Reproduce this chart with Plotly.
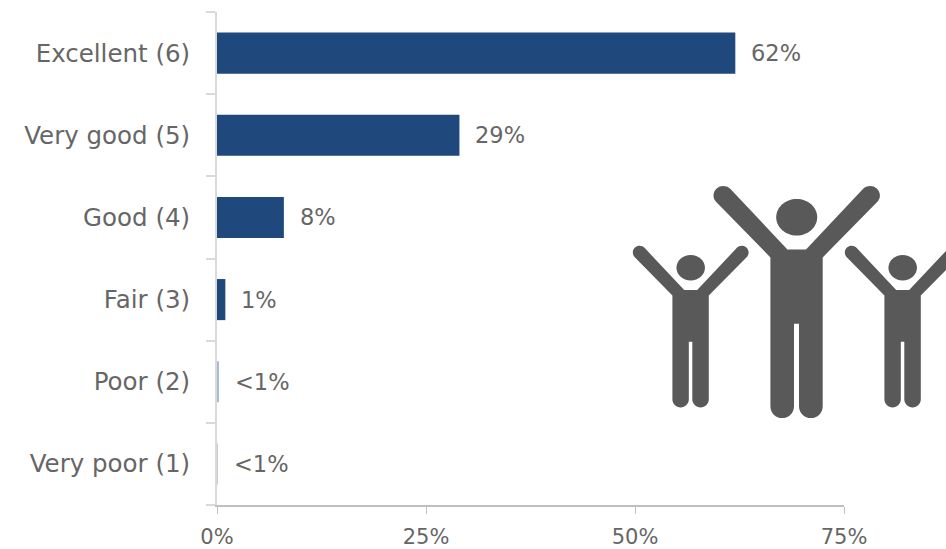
import plotly.graph_objects as go

categories = ["Very poor (1)", "Poor (2)", "Fair (3)", "Good (4)", "Very good (5)", "Excellent (6)"]
values = [0.1, 0.2, 1, 8, 29, 62]
value_labels = ["&lt;1%", "&lt;1%", "1%", "8%", "29%", "62%"]
bar_colors = ["#c4ccd6", "#a9bcd4", "#1f497d", "#1f497d", "#1f497d", "#1f497d"]
x_ticks = [0, 25, 50, 75]
x_tick_labels = ["0%", "25%", "50%", "75%"]

W, H = 946, 549
L, R, T, B = 217, 102, 11.5, 43.5
FONT = "'DejaVu Sans', sans-serif"
GREY = "#595959"
TEXT = "#666666"


def px(x):
    return (x - L) / (W - L - R)


def py(y):
    return 1 - (y - T) / (H - T - B)


# icon outline in units of the large figure, centred on x=0
def person_paths(cx, base_y, s):
    def P(x, y):
        return f"{px(cx + x * s):.5f},{py(base_y + y * s):.5f}"

    def C(a, b, c):
        return "C" + P(*a) + " " + P(*b) + " " + P(*c)

    body = (
        "M" + P(-9.3, 22.7) + "L" + P(9.3, 22.7)
        + "L" + P(66, -37.7)
        + C((69.7, -41.6), (76.1, -42.1), (80, -38.4))
        + C((83.9, -34.7), (84.4, -28.9), (80.7, -25))
        + "L" + P(26, 30.7)
        + "L" + P(26, 180)
        + C((26, 186.5), (20.8, 191.7), (14.2, 191.7))
        + C((7.8, 191.7), (2.3, 186.5), (2.3, 180))
        + "L" + P(2.3, 97.3) + "L" + P(-2.7, 97.3)
        + "L" + P(-2.7, 180)
        + C((-2.7, 186.5), (-8, 191.7), (-14.5, 191.7))
        + C((-21, 191.7), (-26.3, 186.5), (-26.3, 180))
        + "L" + P(-26.3, 30.7)
        + "L" + P(-80.7, -25)
        + C((-84.4, -28.9), (-83.9, -34.7), (-80, -38.4))
        + C((-76.1, -42.1), (-69.7, -41.6), (-66, -37.7))
        + "L" + P(-9.3, 22.7) + "Z"
    )
    k = 0.5523
    rx, ry, hy = 20.5, 18.3, -9.5
    head = (
        "M" + P(-rx, hy)
        + C((-rx, hy - ry * k), (-rx * k, hy - ry), (0, hy - ry))
        + C((rx * k, hy - ry), (rx, hy - ry * k), (rx, hy))
        + C((rx, hy + ry * k), (rx * k, hy + ry), (0, hy + ry))
        + C((-rx * k, hy + ry), (-rx, hy + ry * k), (-rx, hy))
        + "Z"
    )
    return [body, head]


shapes = []
for cx, base_y, s in [(796.7, 226.7, 1.0), (690.7, 274.3, 0.696), (902.7, 274.3, 0.696)]:
    for d in person_paths(cx, base_y, s):
        shapes.append(dict(type="path", xref="paper", yref="paper", path=d,
                           fillcolor=GREY, line=dict(width=0)))

fig = go.Figure(go.Bar(
    y=categories, x=values, orientation="h",
    marker=dict(color=bar_colors, line=dict(width=0)),
    hoverinfo="skip",
))

annotations = [
    dict(x=v, y=c, text=t, xref="x", yref="y", showarrow=False,
         xanchor="left", yanchor="middle", xshift=14,
         font=dict(family=FONT, size=22.5, color=TEXT))
    for c, v, t in zip(categories, values, value_labels)
]

fig.update_layout(
    width=W, height=H,
    margin=dict(l=L, r=R, t=T, b=B, autoexpand=False),
    paper_bgcolor="white", plot_bgcolor="white",
    showlegend=False, bargap=0.5,
    font=dict(family=FONT, size=22, color=TEXT),
    shapes=shapes, annotations=annotations,
    xaxis=dict(range=[0, 75], tickvals=x_ticks, ticktext=x_tick_labels,
               showgrid=False, zeroline=False, showline=True, linecolor="#bfbfbf",
               linewidth=1.5, ticks="outside", ticklen=7, tickcolor="#bfbfbf", tickwidth=1,
               ticklabelstandoff=5,
               tickfont=dict(family=FONT, size=21, color=TEXT)),
    yaxis=dict(categoryorder="array", categoryarray=categories,
               showgrid=False, zeroline=False, showline=True, linecolor="#d9d9d9",
               linewidth=2, ticks="outside", ticklen=9, tickcolor="#d9d9d9", tickwidth=1.5,
               tickson="boundaries", ticklabelstandoff=20,
               tickfont=dict(family=FONT, size=24.5, color=TEXT)),
)

fig.write_html("out.html", config=dict(displayModeBar=False),
               post_script="document.body.style.margin='0';")
